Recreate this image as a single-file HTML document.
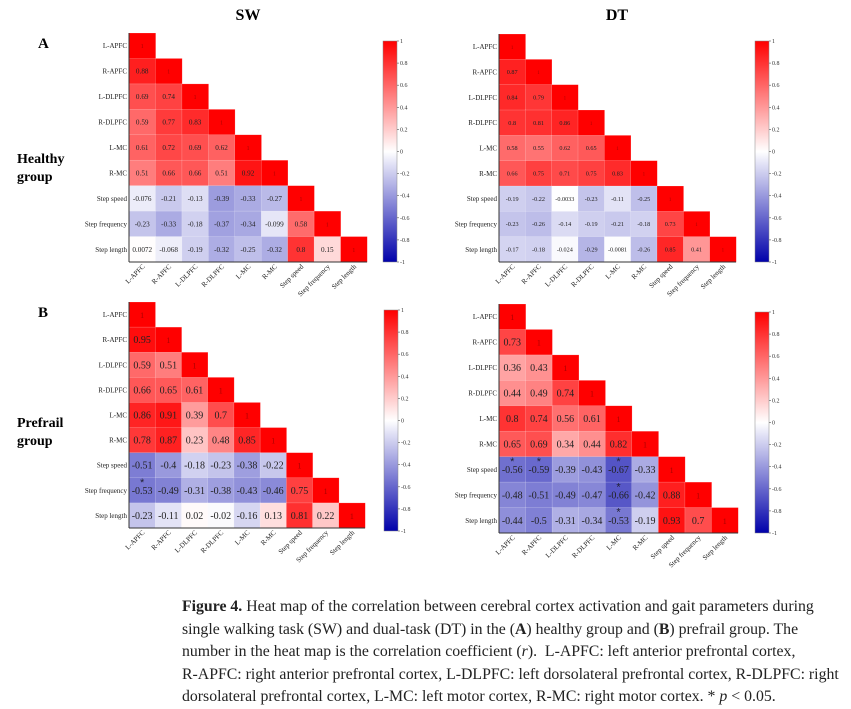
<!DOCTYPE html>
<html><head><meta charset="utf-8">
<style>
html,body{margin:0;padding:0;background:#fff;}
body{width:851px;height:709px;position:relative;overflow:hidden;font-family:"Liberation Serif",serif;}
.cap{position:absolute;left:182px;top:596px;width:665px;font-size:15.8px;line-height:22.6px;color:#222;font-family:"Liberation Serif",serif;white-space:nowrap;}
</style></head><body>
<svg id="fig" width="851" height="590" style="position:absolute;left:0;top:0" xmlns="http://www.w3.org/2000/svg">
<text x="248" y="20" font-size="16" font-weight="bold" text-anchor="middle" font-family="Liberation Serif">SW</text>
<text x="617" y="20" font-size="16" font-weight="bold" text-anchor="middle" font-family="Liberation Serif">DT</text>
<text x="38" y="48" font-size="15" font-weight="bold" font-family="Liberation Serif">A</text>
<text x="38" y="317" font-size="15" font-weight="bold" font-family="Liberation Serif">B</text>
<text x="17" y="163" font-size="14" font-weight="bold" font-family="Liberation Serif"><tspan x="17">Healthy</tspan><tspan x="17" dy="18">group</tspan></text>
<text x="17" y="427" font-size="14" font-weight="bold" font-family="Liberation Serif"><tspan x="17">Prefrail</tspan><tspan x="17" dy="18">group</tspan></text>
</svg>
<div class="cap"><b>Figure 4.</b> Heat map of the correlation between cerebral cortex activation and gait parameters during<br>single walking task (SW) and dual-task (DT) in the (<b>A</b>) healthy group and (<b>B</b>) prefrail group. The<br>number in the heat map is the correlation coefficient (<i>r</i>).&nbsp; L-APFC: left anterior prefrontal cortex,<br>R-APFC: right anterior prefrontal cortex, L-DLPFC: left dorsolateral prefrontal cortex, R-DLPFC: right<br>dorsolateral prefrontal cortex, L-MC: left motor cortex, R-MC: right motor cortex. * <i>p</i> &lt; 0.05.</div>
<script>
const categories = ["L-APFC","R-APFC","L-DLPFC","R-DLPFC","L-MC","R-MC","Step speed","Step frequency","Step length"];
const colorbarTicks = ["1","0.8","0.6","0.4","0.2","0","-0.2","-0.4","-0.6","-0.8","-1"];
const colorbarValues = [1,0.8,0.6,0.4,0.2,0,-0.2,-0.4,-0.6,-0.8,-1];
// lower-triangle rows (row i has i values, diagonal = 1)
const swHealthy = [[],["0.88"],["0.69","0.74"],["0.59","0.77","0.83"],["0.61","0.72","0.69","0.62"],["0.51","0.66","0.66","0.51","0.92"],["-0.076","-0.21","-0.13","-0.39","-0.33","-0.27"],["-0.23","-0.33","-0.18","-0.37","-0.34","-0.099","0.58"],["0.0072","-0.068","-0.19","-0.32","-0.25","-0.32","0.8","0.15"]];
const dtHealthy = [[],["0.87"],["0.84","0.79"],["0.8","0.81","0.86"],["0.58","0.55","0.62","0.65"],["0.66","0.75","0.71","0.75","0.83"],["-0.19","-0.22","-0.0033","-0.23","-0.11","-0.25"],["-0.23","-0.26","-0.14","-0.19","-0.21","-0.18","0.73"],["-0.17","-0.18","-0.024","-0.29","-0.0081","-0.26","0.85","0.41"]];
const swPrefrail = [[],["0.95"],["0.59","0.51"],["0.66","0.65","0.61"],["0.86","0.91","0.39","0.7"],["0.78","0.87","0.23","0.48","0.85"],["-0.51","-0.4","-0.18","-0.23","-0.38","-0.22"],["-0.53","-0.49","-0.31","-0.38","-0.43","-0.46","0.75"],["-0.23","-0.11","0.02","-0.02","-0.16","0.13","0.81","0.22"]];
const dtPrefrail = [[],["0.73"],["0.36","0.43"],["0.44","0.49","0.74"],["0.8","0.74","0.56","0.61"],["0.65","0.69","0.34","0.44","0.82"],["-0.56","-0.59","-0.39","-0.43","-0.67","-0.33"],["-0.48","-0.51","-0.49","-0.47","-0.66","-0.42","0.88"],["-0.44","-0.5","-0.31","-0.34","-0.53","-0.19","0.93","0.7"]];
const swPrefrailStars = [[7,0]];
const dtPrefrailStars = [[6,0],[6,1],[6,4],[7,4],[8,4]];

const NS="http://www.w3.org/2000/svg";
const svg=document.getElementById('fig');
function mk(tag,attrs,parent){const e=document.createElementNS(NS,tag);for(const k in attrs)e.setAttribute(k,attrs[k]);(parent||svg).appendChild(e);return e;}
function color(v){
  if(v>=0){const t=Math.min(1,v);return `rgb(255,${Math.round(255*(1-t))},${Math.round(255*(1-t))})`;}
  const t=Math.min(1,-v);
  return `rgb(${Math.round(255*(1-t))},${Math.round(255*(1-t))},${Math.round(255-85*t)})`;
}
function drawPanel(name,vals,stars,x0,y0,x1,y1,fs,cb){
  const g=mk('g',{});
  
  
  const n=categories.length, cw=(x1-x0)/n, ch=(y1-y0)/n;
  const xs=i=>x0+i*cw, ys=i=>y0+i*ch;
  for(let i=0;i<n;i++){
    for(let j=0;j<=i;j++){
      const v=j===i?1:parseFloat(vals[i][j]);
      const r=mk('rect',{x:xs(j),y:ys(i),width:cw+0.3,height:ch+0.3,fill:color(v),stroke:'rgba(255,255,255,0.35)','stroke-width':0.5},g);
      
      
      const t=mk('text',{x:xs(j)+cw/2,y:ys(i)+ch/2+fs*0.35,'font-size':j===i?fs*0.8:fs,'text-anchor':'middle',fill:j===i?'#a00':'#222','font-family':'Liberation Serif'},g);
      t.textContent=j===i?'1':vals[i][j];
      
      
    }
    const yl=mk('text',{x:x0-2,y:ys(i)+ch/2+2.5,'font-size':7,'text-anchor':'end',fill:'#222','font-family':'Liberation Serif'},g);
    yl.textContent=categories[i];
    
    
    const cx=xs(i)+cw/2+3, cy=y1+5;
    const xl=mk('text',{x:cx,y:cy,'font-size':7,'text-anchor':'end',fill:'#222','font-family':'Liberation Serif',transform:`rotate(-45 ${cx} ${cy})`},g);
    xl.textContent=categories[i];
    
    
  }
  for(const [i,j] of stars){
    const s=mk('text',{x:xs(j)+cw/2,y:ys(i)+ch*0.32,'font-size':11,'text-anchor':'middle',fill:'#223','font-family':'Liberation Sans'},g);
    s.textContent='*';
    
    
  }
  mk('line',{x1:x0,y1:y0,x2:x0,y2:y1,stroke:'#333','stroke-width':1},g);
  mk('line',{x1:x0,y1:y1,x2:x1,y2:y1,stroke:'#333','stroke-width':1},g);
  const [bx,by0,by1]=cb, bw=14;
  const gid=name+'-grad';
  const defs=mk('defs',{},g);
  const lg=mk('linearGradient',{id:gid,x1:0,y1:0,x2:0,y2:1},defs);
  for(let k=0;k<=20;k++){const v=1-k/10;mk('stop',{offset:(k/20),'stop-color':color(v)},lg);}
  const cbr=mk('rect',{x:bx,y:by0,width:bw,height:by1-by0,fill:`url(#${gid})`,stroke:'#888','stroke-width':0.5},g);
  
  
  const cy=v=>by0+(1-v)/2*(by1-by0);
  colorbarValues.forEach((v,k)=>{
    mk('line',{x1:bx+bw,y1:cy(v),x2:bx+bw+2,y2:cy(v),stroke:'#555','stroke-width':0.6},g);
    const t=mk('text',{x:bx+bw+3,y:cy(v)+2,'font-size':6,fill:'#333','font-family':'Liberation Serif'},g);
    t.textContent=colorbarTicks[k];
    
    
  });
}
drawPanel('heatmap-sw-healthy',swHealthy,[],129,33,367,262,7.2,[383,41,262]);
drawPanel('heatmap-dt-healthy',dtHealthy,[],499,34,736,262,6.2,[755,41,262]);
drawPanel('heatmap-sw-prefrail',swPrefrail,swPrefrailStars,129,302,365,528,10,[384,310,531]);
drawPanel('heatmap-dt-prefrail',dtPrefrail,dtPrefrailStars,499,304,738,533,10,[755,312,533]);
</script>
</body></html>
